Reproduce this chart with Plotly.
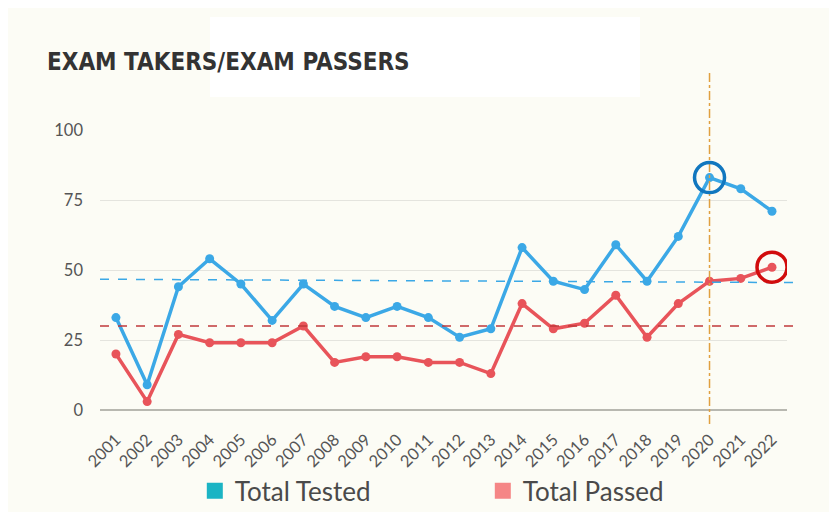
import plotly.graph_objects as go

years = list(range(2001, 2023))
total_tested = [33, 9, 44, 54, 45, 32, 45, 37, 33, 37, 33, 26, 29, 58, 46, 43, 59, 46, 62, 83, 79, 71]
total_passed = [20, 3, 27, 24, 24, 24, 30, 17, 19, 19, 17, 17, 13, 38, 29, 31, 41, 26, 38, 46, 47, 51]
tested_ref = [46.7, 45.5]   # dashed reference line (left, right)
passed_ref = [30, 30]
highlight_year = 2020
y_ticks = [0, 25, 50, 75, 100]

BLUE = "#3ba8e6"
RED = "#e8545a"
TICK_FONT = dict(family="Lato, Noto Sans, sans-serif", size=16.5, color="#555555")
TITLE_FONT = "DejaVu Sans Condensed, Liberation Sans Narrow, sans-serif"

fig = go.Figure()
fig.add_trace(go.Scatter(x=years, y=total_tested, mode="lines+markers",
                         line=dict(color=BLUE, width=3.5), marker=dict(size=9, color=BLUE),
                         showlegend=False, cliponaxis=False))
fig.add_trace(go.Scatter(x=years, y=total_passed, mode="lines+markers",
                         line=dict(color=RED, width=3.5), marker=dict(size=9, color=RED),
                         showlegend=False, cliponaxis=False))
# legend proxies
fig.add_trace(go.Scatter(x=[None], y=[None], mode="markers", name="Total Tested",
                         marker=dict(symbol="square", size=16, color="#1bb4c4")))
fig.add_trace(go.Scatter(x=[None], y=[None], mode="markers", name="Total Passed",
                         marker=dict(symbol="square", size=16, color="#f58686")))

# white box behind title
fig.add_shape(type="rect", xref="paper", yref="paper", x0=0.160, x1=0.786, y0=1.118, y1=1.404,
              fillcolor="white", line=dict(width=0), layer="below")
# reference dashed lines
fig.add_shape(type="line", xref="paper", yref="y", x0=0, x1=1.012, y0=tested_ref[0], y1=tested_ref[1],
              line=dict(color=BLUE, width=1.5, dash="dash"))
fig.add_shape(type="line", xref="paper", yref="y", x0=0, x1=1.012, y0=passed_ref[0], y1=passed_ref[1],
              line=dict(color="#c0393b", width=1.5, dash="dash"))
# vertical highlight line
fig.add_shape(type="line", xref="x", yref="paper", x0=highlight_year, x1=highlight_year, y0=-0.05, y1=1.207,
              line=dict(color="#e0a040", width=1.5, dash="dashdot"))
# highlight circles
i20 = years.index(highlight_year)
fig.add_shape(type="circle", xref="x", yref="y", xsizemode="pixel", ysizemode="pixel",
              xanchor=highlight_year, yanchor=total_tested[i20], x0=-15, x1=15, y0=-15, y1=15,
              line=dict(color="#1177bf", width=3.5))
fig.add_shape(type="circle", xref="x", yref="y", xsizemode="pixel", ysizemode="pixel",
              xanchor=years[-1], yanchor=total_passed[-1], x0=-15, x1=15, y0=-15, y1=15,
              line=dict(color="#d10c0c", width=3.5))

fig.update_layout(
    width=829, height=504,
    margin=dict(l=92, r=50, t=122, b=102, autoexpand=False),
    paper_bgcolor="#fcfcf5", plot_bgcolor="#fcfcf5",
    title=dict(text="<b>EXAM TAKERS/EXAM PASSERS</b>", x=39/829, xanchor="left",
               y=1 - 54/504, yanchor="middle",
               font=dict(family=TITLE_FONT, size=24, color="#333333")),
    legend=dict(orientation="h", x=0.138, xanchor="left", y=-0.289, yanchor="middle",
                entrywidth=243, entrywidthmode="pixels",
                font=dict(family="Lato, Noto Sans, sans-serif", size=26, color="#4a4a4a"),
                bgcolor="rgba(0,0,0,0)"),
    xaxis=dict(range=[2000.49, 2022.48], tickmode="array", tickvals=years,
               ticktext=[str(y) for y in years], tickangle=-45, tickfont=TICK_FONT,
               showgrid=False, zeroline=False, showline=False, ticks="",
               ticklabelstandoff=16, automargin=False),
    yaxis=dict(range=[0, 100], tickmode="array", tickvals=y_ticks, tickfont=TICK_FONT,
               gridcolor="#e4e4de", gridwidth=1.2, zeroline=True, zerolinecolor="#b8b8b0",
               zerolinewidth=1.5, showline=False, ticks="", ticklabelstandoff=16, automargin=False),
)
fig.write_html("out.html")
